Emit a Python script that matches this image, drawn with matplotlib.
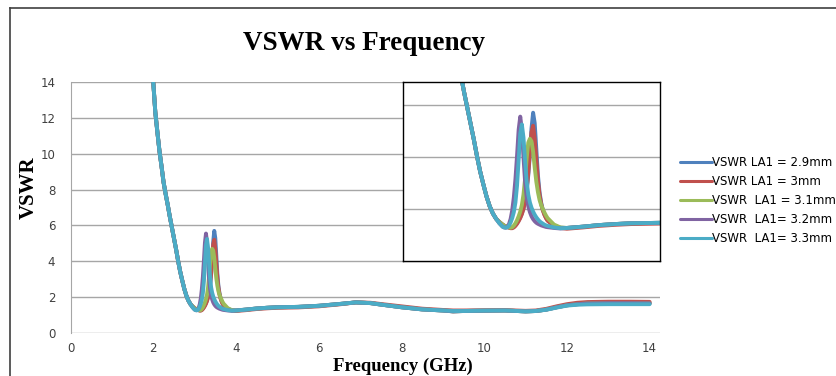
import numpy as np
import matplotlib
matplotlib.use("Agg")
import matplotlib.pyplot as plt
from matplotlib.lines import Line2D

# ========= DATA =========
freq_low = [2.0, 2.05, 2.1, 2.15, 2.2, 2.25, 2.3, 2.35, 2.4, 2.45, 2.5, 2.55,
            2.6, 2.65, 2.7, 2.75, 2.8, 2.85, 2.9]
vswr_low = [14.0, 12.3, 11.2, 10.15, 9.3, 8.4, 7.75, 7.15, 6.5, 5.9, 5.3, 4.7,
            4.05, 3.45, 2.95, 2.48, 2.1, 1.82, 1.62]

freq_res = [2.95, 3.0, 3.025, 3.05, 3.075, 3.1, 3.125, 3.15, 3.175, 3.2, 3.225,
            3.25, 3.275, 3.3, 3.325, 3.35, 3.375, 3.4, 3.425, 3.45, 3.475, 3.5,
            3.525, 3.55, 3.575, 3.6, 3.625, 3.65, 3.675, 3.7, 3.8, 3.9]
res_29 = [1.50, 1.40, 1.36, 1.33, 1.30, 1.29, 1.28, 1.28, 1.32, 1.38, 1.46,
          1.56, 1.68, 1.83, 2.02, 2.30, 2.70, 3.30, 4.10, 5.10, 5.70, 5.30,
          4.30, 3.30, 2.65, 2.25, 1.98, 1.80, 1.66, 1.56, 1.36, 1.28]
res_30 = [1.50, 1.40, 1.36, 1.33, 1.30, 1.28, 1.26, 1.26, 1.29, 1.35, 1.43,
          1.53, 1.65, 1.80, 2.00, 2.30, 2.75, 3.40, 4.20, 4.95, 5.20, 4.70,
          3.90, 3.10, 2.55, 2.20, 1.95, 1.78, 1.65, 1.55, 1.35, 1.27]
res_31 = [1.50, 1.40, 1.36, 1.33, 1.31, 1.29, 1.28, 1.30, 1.36, 1.45, 1.57,
          1.72, 1.90, 2.15, 2.55, 3.15, 3.95, 4.55, 4.70, 4.60, 4.20, 3.60,
          3.05, 2.65, 2.35, 2.15, 2.00, 1.87, 1.75, 1.65, 1.40, 1.29]
res_32 = [1.45, 1.32, 1.29, 1.28, 1.32, 1.42, 1.62, 1.95, 2.45, 3.15, 4.05,
          5.05, 5.55, 5.05, 4.00, 3.05, 2.45, 2.10, 1.88, 1.72, 1.61, 1.53,
          1.47, 1.43, 1.40, 1.37, 1.35, 1.33, 1.31, 1.30, 1.27, 1.25]
res_33 = [1.45, 1.32, 1.29, 1.28, 1.30, 1.36, 1.48, 1.65, 1.88, 2.25, 2.90,
          3.90, 4.90, 5.25, 4.75, 3.85, 3.05, 2.55, 2.25, 2.05, 1.90, 1.78,
          1.68, 1.60, 1.53, 1.48, 1.44, 1.40, 1.37, 1.35, 1.29, 1.26]

freq_high = [4.0, 4.25, 4.5, 4.75, 5.0, 5.5, 6.0, 6.5, 6.9, 7.25, 7.5, 8.0,
             8.5, 9.0, 9.25, 9.5, 10.0, 10.5, 11.0, 11.25, 11.5, 11.75, 12.0,
             12.25, 12.5, 13.0, 13.5, 14.0]
tail_common = [1.27, 1.32, 1.38, 1.42, 1.45, 1.47, 1.53, 1.63, 1.72, 1.68,
               1.60, 1.45, 1.33, 1.27, 1.22, 1.24, 1.26, 1.27, 1.22, 1.24,
               1.32, 1.45, 1.56, 1.62, 1.66, 1.68, 1.68, 1.67]
tail_30 = [1.24, 1.29, 1.35, 1.39, 1.42, 1.44, 1.50, 1.61, 1.72, 1.70,
           1.63, 1.50, 1.37, 1.30, 1.27, 1.27, 1.28, 1.29, 1.25, 1.27,
           1.36, 1.50, 1.62, 1.70, 1.74, 1.76, 1.76, 1.75]
tail_33 = [1.27, 1.32, 1.38, 1.42, 1.45, 1.47, 1.53, 1.63, 1.72, 1.68,
           1.60, 1.45, 1.33, 1.27, 1.24, 1.24, 1.26, 1.27, 1.22, 1.24,
           1.31, 1.43, 1.54, 1.59, 1.61, 1.62, 1.62, 1.62]

labels = ["VSWR LA1 = 2.9mm", "VSWR LA1 = 3mm", "VSWR  LA1 = 3.1mm",
          "VSWR  LA1= 3.2mm", "VSWR  LA1= 3.3mm"]
res_series = [res_29, res_30, res_31, res_32, res_33]
tail_series = [tail_common, tail_30, tail_common, tail_common, tail_33]
colors = ["#4F81BD", "#C0504D", "#9BBB59", "#8064A2", "#4BACC6"]

freq = np.array(freq_low + freq_res + freq_high)

# ========= FIGURE =========
W, H = 837, 376
fig = plt.figure(figsize=(W / 100, H / 100), dpi=100)

# outer chart frame (only top and left edges visible)
fig.add_artist(Line2D([10 / W, 836 / W], [1 - 8 / H, 1 - 8 / H], color="#404040", lw=1.2))
fig.add_artist(Line2D([10 / W, 10 / W], [0, 1 - 8 / H], color="#404040", lw=1.2))

ax = fig.add_axes([70.5 / W, 1 - 333.3 / H, 589.5 / W, 251.6 / H])
ins = fig.add_axes([403 / W, 1 - 261 / H, 257 / W, 179.5 / H])

for a in (ax, ins):
    for v, t, c, lab in zip(res_series, tail_series, colors, labels):
        a.plot(freq, vswr_low + v + t, color=c, lw=2.8, label=lab,
               solid_capstyle="round", solid_joinstyle="round")

grid_col = "#A6A6A6"
ax.set_xlim(0, 14.25)
ax.set_ylim(0, 14)
ax.set_xticks(np.arange(0, 15, 2))
ax.set_yticks(np.arange(0, 15, 2))
ax.yaxis.grid(True, color=grid_col, lw=1)
ax.set_axisbelow(True)
for s in ("top", "right", "bottom"):
    ax.spines[s].set_visible(False)
ax.spines["left"].set_color(grid_col)
ax.tick_params(length=0, labelsize=8.5, labelcolor="#404040")
ax.tick_params(axis="y", pad=11)
ax.tick_params(axis="x", pad=6)

ins.set_xlim(1.45, 5.45)
ins.set_ylim(0, 6.9)
ins.set_yticks([2, 4, 6])
ins.set_xticks([])
ins.set_yticklabels([])
ins.tick_params(length=0)
ins.yaxis.grid(True, color=grid_col, lw=1)
ins.set_axisbelow(True)
ins.set_facecolor("white")
for s in ins.spines.values():
    s.set_color("black")
    s.set_linewidth(1)

serif = ["Liberation Serif", "DejaVu Serif"]
fig.text(364 / W, 1 - 43 / H, "VSWR vs Frequency", ha="center", va="center",
         fontsize=19.5, fontweight="bold", family=serif)
fig.text(403 / W, 1 - 371 / H, "Frequency (GHz)", ha="center", va="baseline",
         fontsize=13.5, fontweight="bold", family=serif)
fig.text(29 / W, 1 - 188 / H, "VSWR", ha="center", va="center", rotation=90,
         fontsize=15, fontweight="bold", family=serif)

handles, labs = ax.get_legend_handles_labels()
fig.legend(handles, labs, loc="upper left", bbox_to_anchor=(675 / W, 1 - 151 / H),
           frameon=False, fontsize=8.5, handlelength=2.7, handletextpad=0.0,
           labelspacing=0.52, borderaxespad=0)
for ln in fig.legends[0].get_lines():
    ln.set_linewidth(2.2)

fig.savefig("out.png", dpi=100, facecolor="white")
